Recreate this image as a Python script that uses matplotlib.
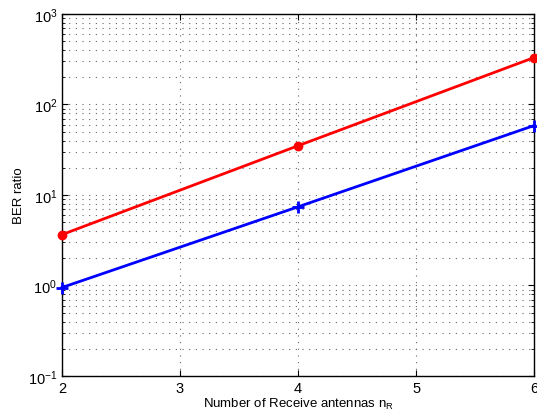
import matplotlib
matplotlib.use('Agg')
from matplotlib import pyplot as plt
from matplotlib.ticker import LogLocator, NullFormatter

plt.rcParams['font.family'] = ['Liberation Sans', 'DejaVu Sans']

n_rx = [2, 4, 6]
ber_ratio_red = [3.65, 35.0, 330.0]
ber_ratio_blue = [0.95, 7.4, 58.5]

fig = plt.figure(figsize = (5.37, 4.14), dpi = 100)
ax = fig.add_axes([0.1155, 0.0894, 0.879, 0.8744])

ax.semilogy(n_rx, ber_ratio_red, color = 'red', linewidth = 2, marker = 'o',
            markersize = 6, clip_on = False, zorder = 3)
ax.semilogy(n_rx, ber_ratio_blue, color = 'blue', linewidth = 2, marker = '+',
            markersize = 8, markeredgewidth = 2, clip_on = False, zorder = 3)

ax.set_xlim(2, 6)
ax.set_ylim(1e-1, 1e3)
ax.set_xticks([2, 3, 4, 5, 6])
ax.yaxis.set_major_locator(LogLocator(base = 10, numticks = 10))
ax.yaxis.set_minor_locator(LogLocator(base = 10, subs = range(2, 10), numticks = 50))
ax.yaxis.set_minor_formatter(NullFormatter())

# sparse dotted grid, MATLAB style
grid_style = dict(linestyle = (0, (1, 5)), color = '#666666', linewidth = 0.8)
ax.grid(True, which = 'major', **grid_style)
ax.grid(True, which = 'minor', axis = 'y', **grid_style)

ax.tick_params(which = 'both', direction = 'in', top = True, right = True, labelsize = 10.5)
ax.tick_params(which = 'major', length = 4)
ax.tick_params(which = 'minor', length = 2)
for s in ax.spines.values():
  s.set_linewidth(1)

ax.set_xlabel('Number of Receive antennas n$_\\mathregular{R}$', fontsize = 9.5, labelpad = 1)
ax.set_ylabel('BER ratio', fontsize = 9.5, labelpad = 2)

fig.savefig('out.png', dpi = 100)
